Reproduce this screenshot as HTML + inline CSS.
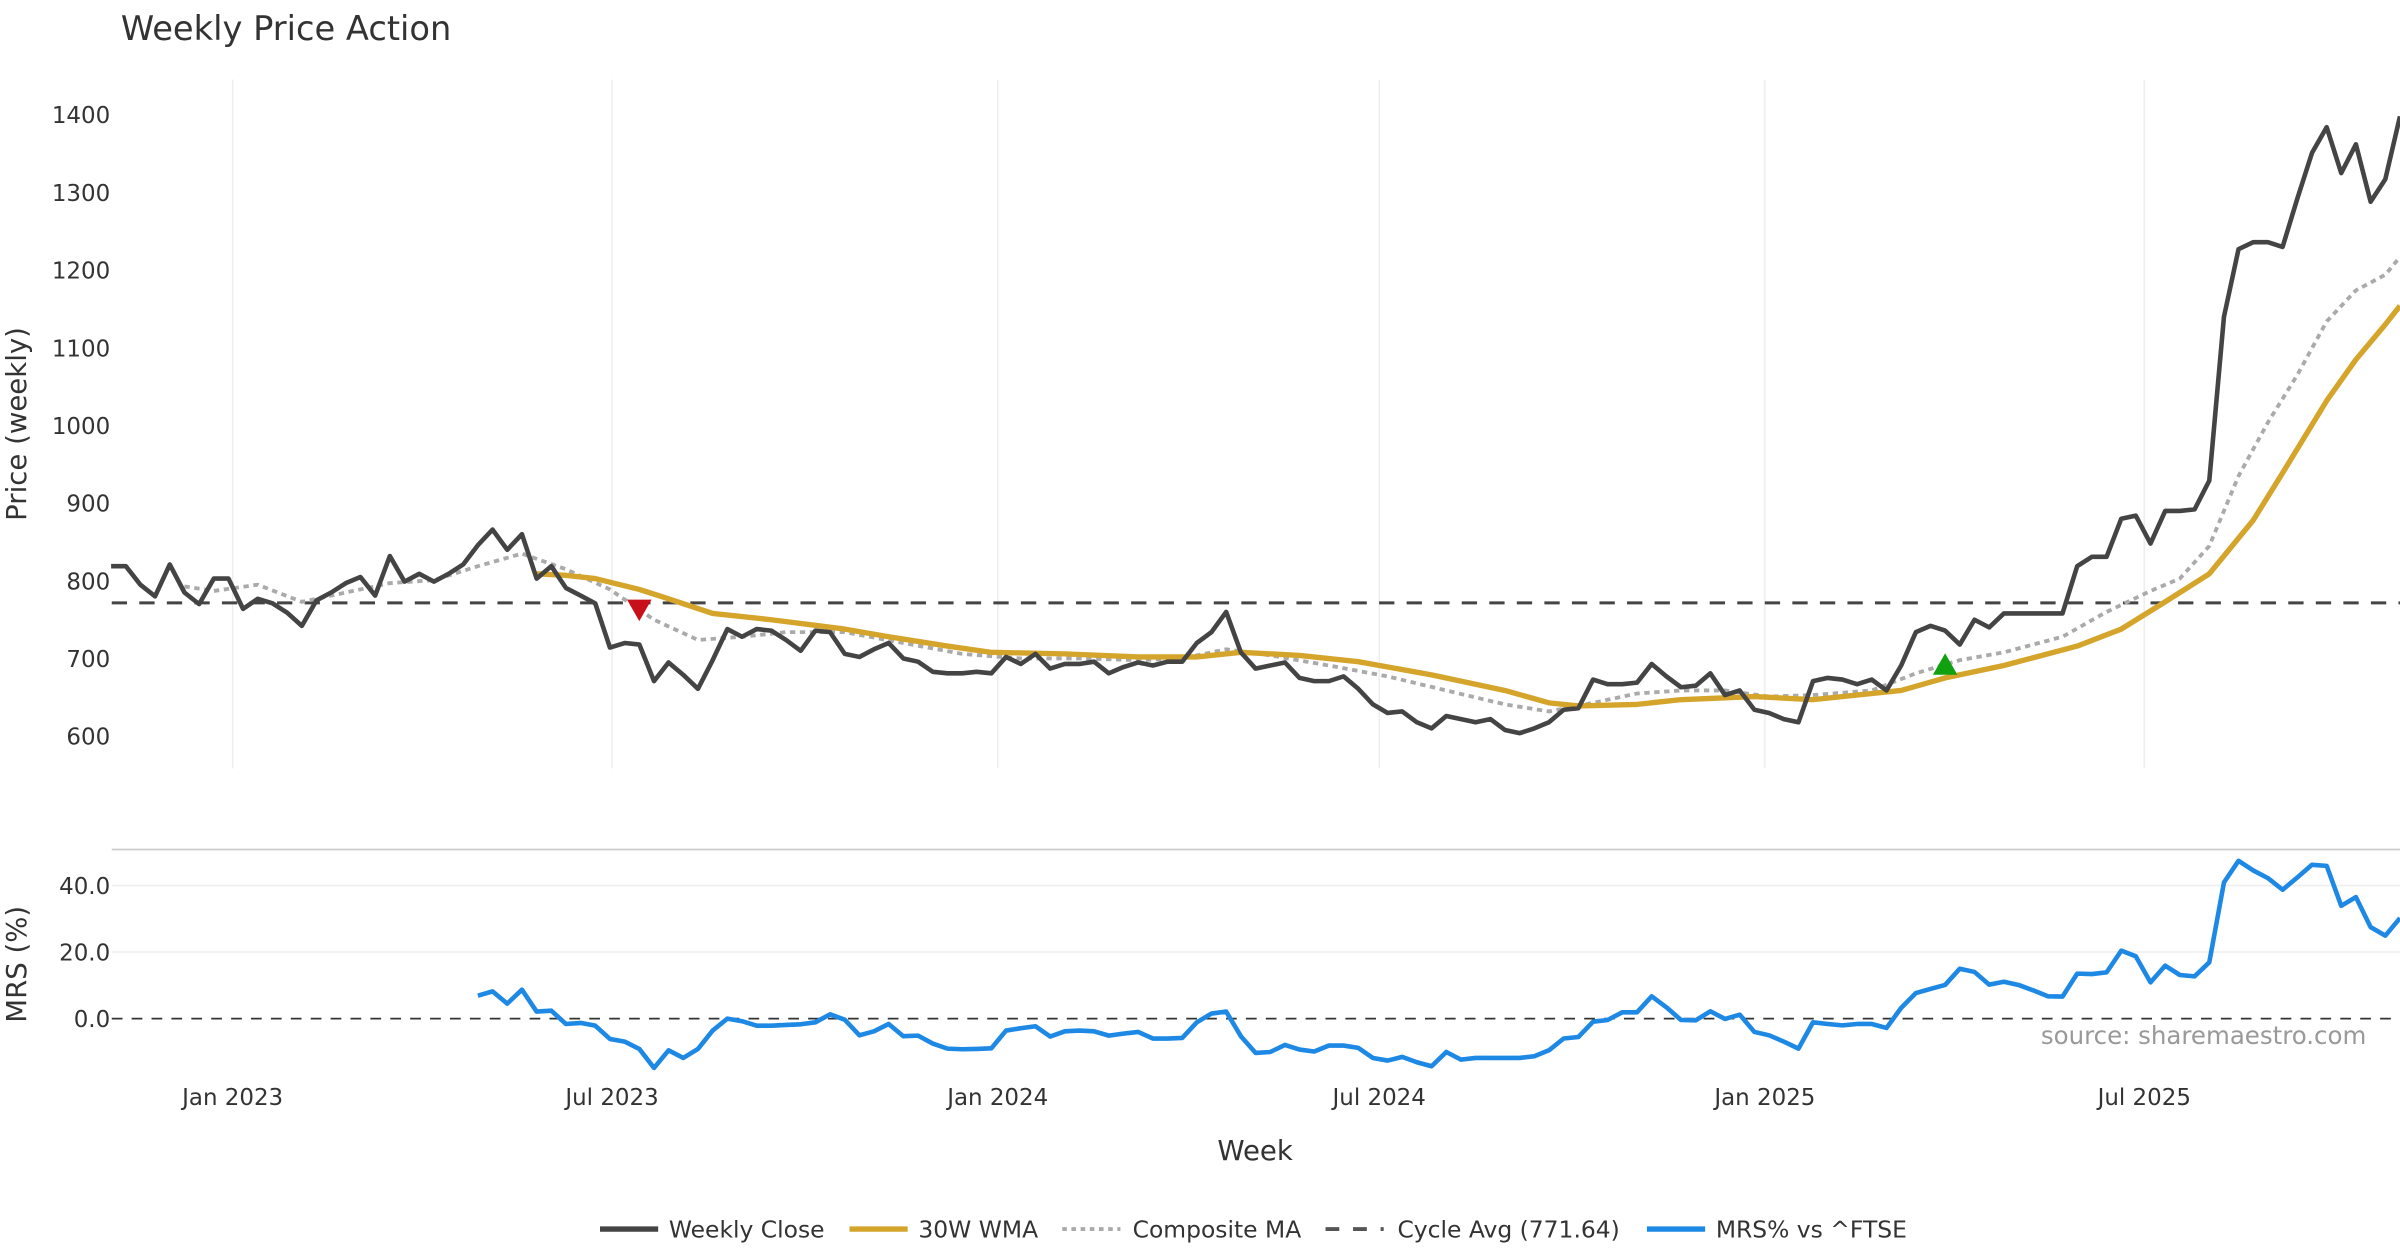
<!DOCTYPE html>
<html><head><meta charset="utf-8"><title>Weekly Price Action</title>
<style>
html,body{margin:0;padding:0;background:#fff;}
svg{display:block;font-family:"DejaVu Sans","Liberation Sans",sans-serif;}
</style></head>
<body>
<svg id="chart" width="2400" height="1260" viewBox="0 0 1568 823.2" xmlns="http://www.w3.org/2000/svg">
<rect x="0" y="0" width="1568" height="823.2" fill="#fff"/>
<text x="79" y="26" font-size="22" fill="#333">Weekly Price Action</text>
<g id="grid"></g>
<g id="axes"></g>
<g id="series"></g>
<text x="17" y="277" font-size="18" fill="#333" text-anchor="middle" transform="rotate(-90 17 277)">Price (weekly)</text>
<text x="17" y="630" font-size="18" fill="#333" text-anchor="middle" transform="rotate(-90 17 630)">MRS (%)</text>
<text x="820" y="758" font-size="18" fill="#333" text-anchor="middle">Week</text>
<text x="1546" y="682" font-size="16" fill="#999" text-anchor="end">source: sharemaestro.com</text>
<g id="legend">
  <g>
    <line x1="392" y1="803" x2="430" y2="803" stroke="#444" stroke-width="3.5"/>
    <text x="437" y="808.5" font-size="15.3" fill="#333">Weekly Close</text></g>
  <g>
    <line x1="555" y1="803" x2="593" y2="803" stroke="#D4A52A" stroke-width="3.5"/>
    <text x="600" y="808.5" font-size="15.3" fill="#333">30W WMA</text></g>
  <g>
    <line x1="694" y1="803" x2="732" y2="803" stroke="#aaa" stroke-width="2.5" stroke-dasharray="3,3"/>
    <text x="740" y="808.5" font-size="15.3" fill="#333">Composite MA</text></g>
  <g>
    <line x1="866" y1="803" x2="904" y2="803" stroke="#555" stroke-width="2.5" stroke-dasharray="9,9"/>
    <text x="913" y="808.5" font-size="15.3" fill="#333">Cycle Avg (771.64)</text></g>
  <g>
    <line x1="1076" y1="803" x2="1114" y2="803" stroke="#1E88E5" stroke-width="3.5"/>
    <text x="1121" y="808.5" font-size="15.3" fill="#333">MRS% vs ^FTSE</text></g>
</g>
</svg>
<script>
const startDate = "2022-11-04";
const closeValues = [819,819,795,780,821,785,770,803,803,764,
777,771,759,742,775,785,797,805,781,832,
799,809,799,809,821,846,866,840,860,803,
819,791,781,771,714,720,718,671,695,679,
661,698,738,728,738,736,724,710,736,734,
706,702,712,720,700,696,683,681,681,683,
681,702,693,706,687,693,693,696,681,689,
695,691,696,696,720,734,760,708,687,691,
695,675,671,671,677,661,641,630,632,618,
610,626,622,618,622,608,604,610,618,634,
636,673,667,667,669,693,677,663,665,681,
653,659,634,630,622,618,671,675,673,667,
673,659,691,734,742,736,718,750,740,758,
758,758,758,758,819,831,831,880,884,848,
890,890,892,929,1140,1227,1236,1236,1230,1292,
1351,1384,1325,1362,1288,1317,1398];
const wmaWeeks = [29,31,33,36,38,41,45,50,53,57,60,65,70,74,77,81,85,90,95,98,100,104,107,112,116,122,125,129,134,137,140,143,146,148,151,153,155,156];
const wmaValues = [809,807,803,789,777,758,750,738,728,716,708,706,702,702,708,704,696,679,659,643,639,641,647,651,647,659,675,691,716,738,773,809,878,939,1032,1085,1130,1154];
const compWeeks = [5,7,10,13,16,19,22,25,28,31,34,37,40,43,46,50,54,58,62,66,70,73,76,79,83,87,91,95,98,101,104,107,110,113,116,120,123,126,129,133,136,139,141,143,145,147,149,151,153,155,156];
const compValues = [793,787,795,773,785,797,801,819,835,815,789,750,724,728,734,734,720,706,700,700,698,700,712,704,691,677,659,641,632,643,655,659,659,651,653,659,681,698,708,728,760,787,803,845,935,1004,1065,1134,1174,1194,1217];
const cycleAvg = 771.64;
const mrsStartWeek = 25;
const mrsValues = [6.9,8.2,4.5,8.7,2.1,2.4,-1.6,-1.3,-2.1,-6.1,
-6.9,-9.1,-14.8,-9.5,-11.8,-9.1,-3.6,0,-0.8,-2.1,
-2.1,-1.9,-1.7,-1.1,1.3,-0.3,-5,-3.8,-1.6,-5.3,
-5.1,-7.5,-9,-9.2,-9.1,-8.9,-3.6,-2.9,-2.3,-5.4,
-3.8,-3.6,-3.8,-5.1,-4.5,-4,-6,-6,-5.8,-1.1,
1.5,2.1,-5.3,-10.3,-10,-7.9,-9.3,-9.9,-8.1,-8.1,
-8.8,-11.8,-12.6,-11.5,-13.1,
-14.3,-10,-12.3,-11.8,-11.8,-11.8,-11.8,-11.3,-9.5,-6,
-5.5,-0.9,-0.4,1.9,1.9,6.7,3.4,-0.4,-0.5,2.2,
-0.1,1.2,-4,-5,-6.9,-9,-1.1,-1.6,-2,-1.6,
-1.6,-2.8,3.2,7.7,8.9,10.1,15,14,10.2,11.1,
10.1,8.5,6.7,6.6,13.5,13.4,13.9,20.4,18.7,10.9,
15.9,13.1,12.7,16.9,40.9,47.4,44.5,42.2,38.7,42.4,
46.2,45.9,33.9,36.5,27.5,24.9,30.2];
const priceTicks = [600,700,800,900,1000,1100,1200,1300,1400];
const mrsTicks = [0,20,40];
const dateTicks = ["2023-01-01","2023-07-01","2024-01-01","2024-07-01","2025-01-01","2025-07-01"];
const dateTickLabels = ["Jan 2023","Jul 2023","Jan 2024","Jul 2024","Jan 2025","Jul 2025"];
const sellSignal = {week:36, value:762};
const buySignal = {week:125, value:693};

const NS="http://www.w3.org/2000/svg";
const DAY=86400000;
const t0=Date.parse(startDate);
const refDate=Date.parse("2023-01-01");
function xDate(ms){return 152+(ms-refDate)/DAY*(9.586/7);}
function xWeek(i){return xDate(t0+i*7*DAY);}
function yPrice(v){return 75+(1400-v)*0.5075;}
function yMrs(v){return 665.5-v*2.175;}
function mk(tag,attrs,parent){const e=document.createElementNS(NS,tag);for(const k in attrs)e.setAttribute(k,attrs[k]);parent.appendChild(e);return e;}
const grid=document.getElementById('grid'),axes=document.getElementById('axes'),ser=document.getElementById('series');

dateTicks.forEach((d,i)=>{
  const x=xDate(Date.parse(d));
  const g=mk('line',{x1:x,y1:52,x2:x,y2:502,stroke:'#eee','stroke-width':1},grid);
  
  
  const t=mk('text',{x:x,y:722,'font-size':15,fill:'#333','text-anchor':'middle'},axes);
  t.textContent=dateTickLabels[i];
  
  
});
priceTicks.forEach(v=>{
  const t=mk('text',{x:72,y:yPrice(v)+5.5,'font-size':15,fill:'#333','text-anchor':'end'},axes);
  t.textContent=v;
  
  
});
const sep=mk('line',{x1:73,y1:555,x2:1568,y2:555,stroke:'#ccc','stroke-width':1.2},grid);


mrsTicks.forEach(v=>{
  if(v!==0){const l=mk('line',{x1:73,y1:yMrs(v),x2:1568,y2:yMrs(v),stroke:'#eee','stroke-width':1},grid);
  
  }
  const t=mk('text',{x:72,y:yMrs(v)+5.5,'font-size':15,fill:'#333','text-anchor':'end'},axes);
  t.textContent=v.toFixed(1);
  
  
});
const zl=mk('line',{x1:73,y1:yMrs(0),x2:1568,y2:yMrs(0),stroke:'#333','stroke-width':1.2,'stroke-dasharray':'7,6'},ser);



function pts(xs,ys){return xs.map((x,i)=>x.toFixed(1)+','+ys[i].toFixed(1)).join(' ');}
const cy=yPrice(cycleAvg);
const cl=mk('line',{x1:73,y1:cy,x2:1568,y2:cy,stroke:'#444','stroke-width':2,'stroke-dasharray':'10,8'},ser);


const comp=mk('polyline',{points:pts(compWeeks.map(xWeek),compValues.map(yPrice)),fill:'none',stroke:'#aaa','stroke-width':2.5,'stroke-dasharray':'3.5,3'},ser);


const wma=mk('polyline',{points:pts(wmaWeeks.map(xWeek),wmaValues.map(yPrice)),fill:'none',stroke:'#D4A52A','stroke-width':3.5,'stroke-linejoin':'round'},ser);


const close=mk('polyline',{points:pts(closeValues.map((v,i)=>xWeek(i)),closeValues.map(yPrice)),fill:'none',stroke:'#444','stroke-width':3,'stroke-linejoin':'round'},ser);


const mrs=mk('polyline',{points:pts(mrsValues.map((v,i)=>xWeek(mrsStartWeek+i)),mrsValues.map(yMrs)),fill:'none',stroke:'#1E88E5','stroke-width':3,'stroke-linejoin':'round'},ser);



const sx=xWeek(sellSignal.week),sy=yPrice(sellSignal.value);
const sm=mk('polygon',{points:`${sx-8},${sy-7} ${sx+8},${sy-7} ${sx},${sy+7}`,fill:'#C8101A'},ser);


const bx=xWeek(buySignal.week),by=yPrice(buySignal.value);
const bm=mk('polygon',{points:`${bx-8},${by+7} ${bx+8},${by+7} ${bx},${by-7}`,fill:'#10A010'},ser);


</script>
</body></html>
